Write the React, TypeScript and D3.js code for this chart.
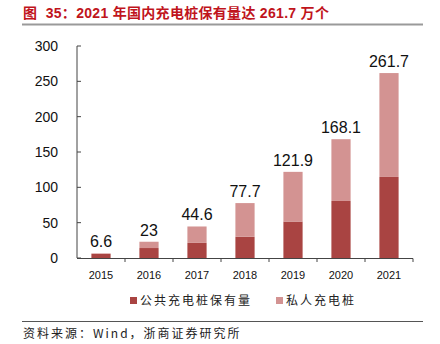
import React from "react";
import * as d3 from "d3";

const years = ["2015", "2016", "2017", "2018", "2019", "2020", "2021"];
const publicPiles = [5.8, 14.1, 21.4, 30.0, 51.6, 80.7, 114.7];
const privatePiles = [0.8, 8.9, 23.2, 47.7, 70.3, 87.4, 147.0];
const totalLabels = ["6.6", "23", "44.6", "77.7", "121.9", "168.1", "261.7"];
const yTicks = [0, 50, 100, 150, 200, 250, 300];
const seriesNames = ["公共充电桩保有量", "私人充电桩"];
const colors = ["#A94442", "#D39392"];

export default function App() {
  const W = 440, H = 344;
  const x = d3.scaleBand<string>().domain(years).range([77, 413]).paddingInner(0.6).paddingOuter(0.3);
  const y = d3.scaleLinear().domain([0, 300]).range([258, 46]);
  const band = d3.scaleBand<string>().domain(years).range([77, 413]);
  const stackData = years.map((yr, i) => ({ year: yr, pub: publicPiles[i], pri: privatePiles[i] }));
  const stack = d3.stack<any>().keys(["pub", "pri"])(stackData);
  const num = "'Liberation Sans', Arial, sans-serif";
  const cjk = "'Noto Sans CJK SC', sans-serif";
  return (
    <svg width={W} height={H} style={{ position: "absolute", left: 0, top: 0, background: "#fff" }}>
      <text x={23} y={18} fill="#C0141C" fontSize={14} fontWeight="bold" fontFamily={`${num}, ${cjk}`} style={{ whiteSpace: "pre" }} letterSpacing={0.3}>
        {"图  35：2021 年国内充电桩保有量达 261.7 万个"}
      </text>
      <line x1={22} x2={423} y1={24.5} y2={24.5} stroke="#9a9a9a" strokeWidth={2} />
      {/* y axis */}
      <line x1={77} x2={77} y1={y(300)} y2={y(0)} stroke="#444" strokeWidth={1} />
      {yTicks.map((t) => (
        <g key={t}>
          <line x1={77} x2={81} y1={y(t)} y2={y(t)} stroke="#444" />
          <text x={58} y={y(t)} dy="0.35em" textAnchor="end" fontSize={14} fontFamily={num} fill="#111">{t}</text>
        </g>
      ))}
      {/* bars */}
      {stack.map((s, si) =>
        s.map((d, i) => (
          <rect key={`${si}-${i}`} x={x(years[i])} width={x.bandwidth()} y={y(d[1])} height={y(d[0]) - y(d[1])} fill={colors[si]} />
        ))
      )}
      {/* x axis */}
      <line x1={77} x2={413} y1={258.5} y2={258.5} stroke="#444" strokeWidth={1} />
      {years.map((yr, i) => (
        <g key={yr}>
          <line x1={band(yr)! + band.bandwidth()} x2={band(yr)! + band.bandwidth()} y1={258.5} y2={262} stroke="#444" />
          <text x={band(yr)! + band.bandwidth() / 2} y={279} textAnchor="middle" fontSize={11} fontFamily={num} fill="#111">{yr}</text>
          <text x={x(yr)! + x.bandwidth() / 2} y={y(publicPiles[i] + privatePiles[i]) - 6} textAnchor="middle" fontSize={16} fontFamily={num} fill="#111">{totalLabels[i]}</text>
        </g>
      ))}
      {/* legend */}
      {seriesNames.map((n, i) => {
        const lx = i === 0 ? 130 : 276;
        return (
          <g key={n}>
            <rect x={lx} y={297} width={7} height={7} fill={colors[i]} />
            <text x={lx + 10} y={305} fontSize={12} fontFamily={cjk} fill="#222" letterSpacing={2}>{n}</text>
          </g>
        );
      })}
      <line x1={22} x2={423} y1={321.5} y2={321.5} stroke="#555" strokeWidth={1} />
      <text x={23} y={338} fontSize={12} fontFamily={cjk} fill="#222" letterSpacing={2}>资料来源：Wind，浙商证券研究所</text>
    </svg>
  );
}
